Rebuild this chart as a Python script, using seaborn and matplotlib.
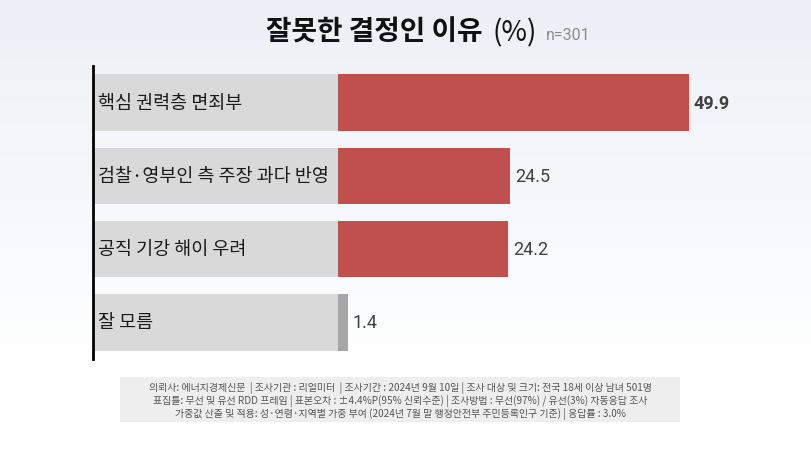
import numpy as np
import matplotlib
matplotlib.use("Agg")
import matplotlib.pyplot as plt
import seaborn as sns
import pandas as pd

# --- DATA ---
categories = ["핵심 권력층 면죄부", "검찰·영부인 측 주장 과다 반영", "공직 기강 해이 우려", "잘 모름"]
values = [49.9, 24.5, 24.2, 1.4]
bar_colors = ["#c0504d", "#c0504d", "#c0504d", "#a6a6a6"]
title_main = "잘못한 결정인 이유"
title_unit = "(%)"
sample_note = "n=301"
footer_lines = [
    "의뢰사: 에너지경제신문  | 조사기관 : 리얼미터  | 조사기간 : 2024년 9월 10일 | 조사 대상 및 크기: 전국 18세 이상 남녀 501명",
    "표집틀: 무선 및 유선 RDD 프레임 | 표본오차 : ±4.4%P(95% 신뢰수준) | 조사방법 : 무선(97%) / 유선(3%) 자동응답 조사",
    "가중값 산출 및 적용: 성·연령·지역별 가중 부여 (2024년 7월 말 행정안전부 주민등록인구 기준) | 응답률 : 3.0%",
]
# -------------

W, H = 811, 464
KR = ["Noto Sans CJK KR", "DejaVu Sans"]
NUM = ["Roboto", "DejaVu Sans"]
LABEL_W = 34.85  # width of grey label panel in data units

sns.set_theme(style="white")
plt.rcParams["font.family"] = KR

fig = plt.figure(figsize=(W / 100, H / 100), dpi=100)

# gradient background
bg = fig.add_axes([0, 0, 1, 1], zorder=-10)
grad = np.linspace(0, 1, 256).reshape(-1, 1)
top = np.array([0.925, 0.941, 0.965])
bot = np.array([1.0, 1.0, 1.0])
img = top + (bot - top) * np.clip(grad * 1.25, 0, 1)
img = np.repeat(img[:, None, :], 2, axis=1)
bg.imshow(img, aspect="auto", extent=[0, 1, 0, 1])
bg.axis("off")

# main axes
x0, x1 = 93, 811
y0, y1 = 67, 360
ax = fig.add_axes([x0 / W, 1 - y1 / H, (x1 - x0) / W, (y1 - y0) / H])
ax.patch.set_alpha(0)

df = pd.DataFrame({"category": categories, "value": values})
ax.barh(range(len(categories)), [LABEL_W] * len(categories), left=-LABEL_W,
        height=0.77, color="#d9d9d9", linewidth=0, zorder=1)
sns.barplot(data=df, y="category", x="value", hue="category", palette=bar_colors,
            orient="h", width=0.77, legend=False, ax=ax, zorder=2, saturation=1,
            linewidth=0)

ax.set_xlim(-LABEL_W, 67.3)
ax.set_ylim(3.5, -0.5)
ax.set_xlabel("")
ax.set_ylabel("")
ax.set_xticks([])
ax.set_yticks([])
for s in ["top", "right", "bottom"]:
    ax.spines[s].set_visible(False)
ax.spines["left"].set_color("black")
ax.spines["left"].set_linewidth(2)

for i, (cat, v) in enumerate(zip(categories, values)):
    ax.text(-LABEL_W + 0.75, i, cat, va="center", ha="left", fontsize=13.3,
            color="#1a1a1a", family=KR, zorder=3)
    ax.text(v + 0.7, i, f"{v:.1f}", va="center", ha="left", fontsize=13,
            color="#404040", family=NUM, fontweight="bold" if i == 0 else "normal", zorder=3)

# title
fig.canvas.draw()
r = fig.canvas.get_renderer()
t1 = fig.text(266 / W, 1 - 41 / H, title_main, fontsize=20, fontweight="heavy",
              color="#111111", family=KR, ha="left", va="baseline")
bb = t1.get_window_extent(r)
t2 = fig.text((bb.x1 + 10) / W, 1 - 41 / H, title_unit, fontsize=20,
              color="#111111", family=KR, ha="left", va="baseline")
bb2 = t2.get_window_extent(r)
fig.text((bb2.x1 + 9) / W, 1 - 40 / H, sample_note, fontsize=11.5,
         color="#8c8c8c", family=NUM, ha="left", va="baseline")

# footer box
fax = fig.add_axes([120 / W, 1 - 423 / H, 560 / W, 45 / H])
fax.set_facecolor("#eeeeee")
fax.set_xticks([])
fax.set_yticks([])
for s in fax.spines.values():
    s.set_visible(False)
for j, line in enumerate(footer_lines):
    fax.text(0.5, 0.78 - j * 0.29, line, ha="center", va="center", fontsize=7.2,
             color="#555555", family=KR, transform=fax.transAxes)

fig.savefig("out.png", dpi=100)
